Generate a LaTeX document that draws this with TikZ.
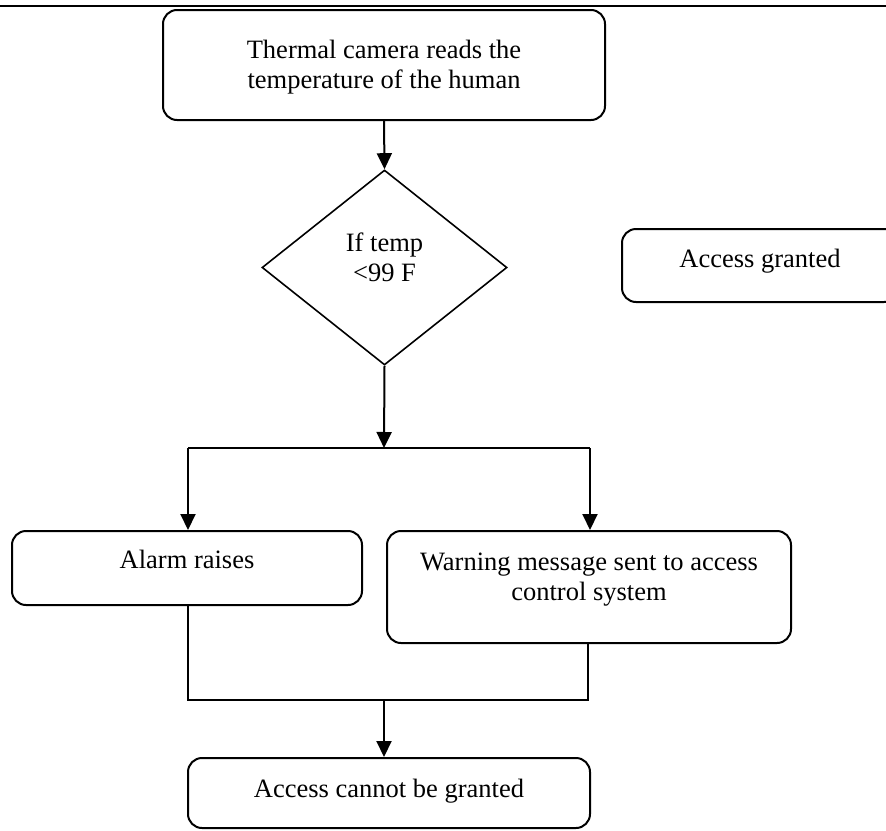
\documentclass[tikz,border=0pt]{standalone}
\usepackage{fontspec}
\setmainfont{Liberation Serif}
\usetikzlibrary{shapes.geometric,arrows.meta}
\begin{document}
\begin{tikzpicture}[x=1pt,y=-1pt,
  txt/.style={font=\fontsize{26.5}{30}\selectfont},
  box/.style={draw,line width=2pt,rounded corners=14pt,inner sep=0pt,align=center,txt},
  decide/.style={draw,shape=diamond,line width=1.6pt,inner sep=0pt,align=center,txt},
  arr/.style={line width=2pt,-{Triangle[length=16pt,width=15pt]}},
  ln/.style={line width=1.6pt}]
\useasboundingbox (0,0) rectangle (886,830);
\clip (0,0) rectangle (886,830);
\coordinate (rl) at (0,6);
\coordinate (rr) at (886,6);
\draw[line width=1.6pt] (rl) -- (rr);

\node[box,minimum width=442pt,minimum height=110pt,text height=50pt,text depth=4pt] (top) at (384,65)
  {Thermal camera reads the\\temperature of the human};
\node[decide,minimum width=245pt,minimum height=195pt,text height=35pt,text depth=8pt] (dia) at (384.5,267.5)
  {If temp\\{<}99 F};
\node[box,minimum width=276pt,minimum height=73pt,text height=11.5pt,text depth=8.5pt] (grant) at (760,265.5)
  {Access granted};
\node[box,minimum width=350pt,minimum height=74pt,text height=10pt,text depth=10pt] (alarm) at (187,568)
  {Alarm raises};
\node[box,minimum width=404pt,minimum height=112pt,text height=40pt,text depth=14pt] (warn) at (589,587)
  {Warning message sent to access\\control system};
\node[box,minimum width=402pt,minimum height=70pt,text height=12pt,text depth=4pt] (deny) at (389,793)
  {Access cannot be granted};

\coordinate (j1) at (384,448);
\coordinate (jl) at (188,448);
\coordinate (jr) at (590,448);
\coordinate (k1) at (384,700);
\coordinate (kl) at (188,700);
\coordinate (kr) at (588,700);

\draw[arr] (top.south) -- (dia.north);
\draw[arr] (dia.south) -- (j1);
\draw[ln] (jl) -- (jr);
\draw[arr] (jl) -- (jl |- alarm.north);
\draw[arr] (jr) -- (jr |- warn.north);
\draw[ln] (alarm.south -| kl) -- (kl) -- (kr) -- (warn.south -| kr);
\draw[arr] (k1) -- (k1 |- deny.north);
\end{tikzpicture}
\end{document}
